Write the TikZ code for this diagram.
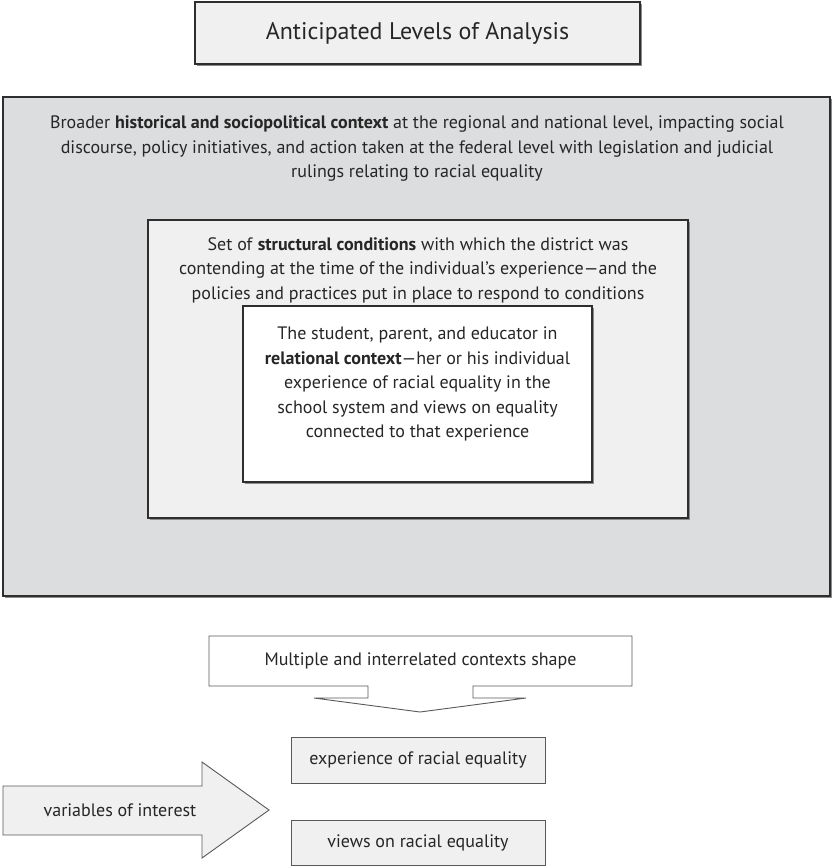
\documentclass[tikz,border=0pt]{standalone}
\usepackage{fontspec}
\setmainfont{PT Sans}
\begin{document}
\begin{tikzpicture}[x=1pt,y=-1pt,
  frame/.style={draw=black!82,line width=2.2pt},
  lightbox/.style={draw=black!65,line width=0.9pt,fill=boxgray},
  txt/.style={font=\fontsize{18}{24.5}\selectfont,align=center,text=black!85,inner sep=0pt}]
\definecolor{boxgray}{HTML}{F0F0F0}
\definecolor{outergray}{HTML}{DCDDDF}
\useasboundingbox (0,0) rectangle (832,866);

% title
\fill[black!45] (197,4) rectangle (642,66);
\draw[frame,fill=boxgray] (195,2) rectangle (640,64);
\node[txt,font=\fontsize{24}{28}\selectfont] (title) at (417.5,33) {Anticipated Levels of Analysis};

% nested context frames
\fill[black!45] (5,99) rectangle (832,598);
\draw[frame,fill=outergray] (3,97) rectangle (830,596);
\node[txt,anchor=north] (broad) at (417,116) {Broader \textbf{historical and sociopolitical context} at the regional and national level, impacting social\\ discourse, policy initiatives, and action taken at the federal level with legislation and judicial\\ rulings relating to racial equality};

\fill[black!45] (150,222) rectangle (690,520);
\draw[frame,fill=boxgray] (148,220) rectangle (688,518);
\node[txt,anchor=north] (struct) at (418,237) {Set of \textbf{structural conditions} with which the district was\\ contending at the time of the individual's experience---and the\\ policies and practices put in place to respond to conditions};

\fill[black!45] (245,308) rectangle (594,484);
\draw[frame,fill=white] (243,306) rectangle (592,482);
\node[txt,anchor=north] (rel) at (417.5,327) {The student, parent, and educator in\\ \textbf{relational context}---her or his individual\\ experience of racial equality in the\\ school system and views on equality\\ connected to that experience};

% down-arrow callout
\draw[draw=black!65,line width=0.9pt,fill=white,line join=miter]
  (209,636) -- (632,636) -- (632,686) -- (473,686) -- (473,698) -- (526,698)
  -- (420,712) -- (314,698) -- (368,698) -- (368,686) -- (209,686) -- cycle;
\node[txt] (shape) at (420.5,661) {Multiple and interrelated contexts shape};

% outcome boxes
\draw[lightbox] (291,737) rectangle (545,783);
\node[txt] (exp) at (418,760) {experience of racial equality};
\draw[lightbox] (291,820) rectangle (545,865);
\node[txt] (views) at (418,842.5) {views on racial equality};

% block arrow
\draw[lightbox,line join=miter] (3,786) -- (202,786) -- (202,762) -- (269,810)
  -- (202,858) -- (202,835) -- (3,835) -- cycle;
\node[txt] (vars) at (120,810) {variables of interest};
\end{tikzpicture}
\end{document}
